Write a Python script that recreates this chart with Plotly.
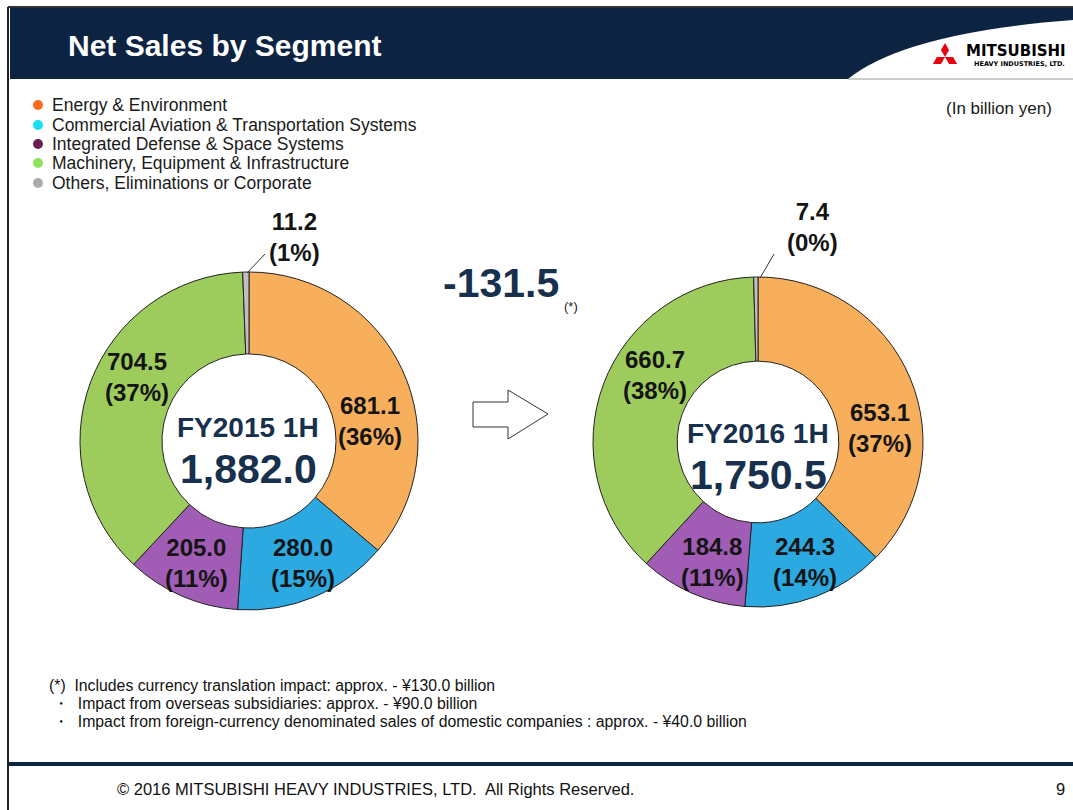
import math
import plotly.graph_objects as go

# ---------------- data ----------------
segments = ["Energy & Environment",
            "Commercial Aviation & Transportation Systems",
            "Integrated Defense & Space Systems",
            "Machinery, Equipment & Infrastructure",
            "Others, Eliminations or Corporate"]
fy2015_values = [681.1, 280.0, 205.0, 704.5, 11.2]
fy2015_pct = [36, 15, 11, 37, 1]
fy2016_values = [653.1, 244.3, 184.8, 660.7, 7.4]
fy2016_pct = [37, 14, 11, 38, 0]
period_labels = ["FY2015 1H", "FY2016 1H"]
period_totals = ["1,882.0", "1,750.5"]
change_label = "-131.5"
unit_label = "(In billion yen)"
title_text = "Net Sales by Segment"
footnotes = ["(*)  Includes currency translation impact: approx. - ¥130.0 billion",
             "\u30fb  Impact from overseas subsidiaries: approx. - ¥90.0 billion",
             "\u30fb  Impact from foreign-currency denominated sales of domestic companies : approx. - ¥40.0 billion"]
footer_text = "© 2016 MITSUBISHI HEAVY INDUSTRIES, LTD.  All Rights Reserved."
page_no = "9"

# ---------------- styles ----------------
W, H = 1073, 810
slice_colors = ["#F8AF5C", "#2CA9E1", "#A15DB5", "#9DCB5C", "#BFBFBF"]
legend_colors = ["#FF6A1A", "#19DDF2", "#6A1F50", "#8EE35A", "#ABABAB"]
NAVY = "#0C2341"
TXT_NAVY = "#17304D"
FONT = "Arial, Liberation Sans, sans-serif"

def dom_x(l, r):
    return [l / W, r / W]

def dom_y(t, b):
    return [1 - b / H, 1 - t / H]

fig = go.Figure()

# pies
pie_geo = [
    dict(x=dom_x(80, 418), y=dom_y(272, 610), hole=0.515),
    dict(x=dom_x(593, 923), y=dom_y(277, 607), hole=0.49),
]
for vals, geo in zip([fy2015_values, fy2016_values], pie_geo):
    fig.add_trace(go.Pie(
        labels=segments, values=vals, sort=False, direction="clockwise",
        rotation=0, hole=geo["hole"], textinfo="none", hoverinfo="skip",
        marker=dict(colors=slice_colors, line=dict(color="#222222", width=1)),
        domain=dict(x=geo["x"], y=geo["y"]), showlegend=False))

# legend markers (pixel axes)
leg_x = 38
leg_y = [105, 125, 144, 163, 183]
fig.add_trace(go.Scatter(
    x=[leg_x] * len(segments), y=leg_y, mode="markers",
    marker=dict(size=10, color=legend_colors, line=dict(width=0)),
    hoverinfo="skip", showlegend=False))

annotations = []
def txt(x, y, s, size, color="#111111", bold=False, family=FONT, xanchor="center"):
    annotations.append(dict(
        x=x, y=y, xref="x", yref="y", text=f"<b>{s}</b>" if bold else s,
        showarrow=False, xanchor=xanchor, yanchor="middle",
        font=dict(family=family, size=size, color=color)))

for seg, y in zip(segments, leg_y):
    txt(50, y, seg, 17.5, "#1a1a1a", xanchor="left")

# header
txt(66, 45, title_text, 30, "white", bold=True, xanchor="left")
txt(1054, 108, unit_label, 17, "#1a1a1a", xanchor="right")

# slice labels: (pie index, slice index, x, y centre of two-line block)
label_pos = [
    (0, 0, 370, 421), (0, 1, 303, 563), (0, 2, 196, 563),
    (0, 3, 137, 377), (0, 4, 294, 237),
    (1, 0, 880, 428), (1, 1, 805, 562), (1, 2, 712, 562),
    (1, 3, 655, 375), (1, 4, 812, 227),
]
all_vals = [fy2015_values, fy2016_values]
all_pct = [fy2015_pct, fy2016_pct]
for p, i, x, y in label_pos:
    txt(x, y, f"{all_vals[p][i]:.1f}<br>({all_pct[p][i]}%)", 24, "#141414", bold=True)

# centre labels
for (cx, y1, y2), lab, tot in zip([(248, 427, 469), (758, 433, 475)], period_labels, period_totals):
    txt(cx, y1, lab, 28, TXT_NAVY, bold=True)
    txt(cx, y2, tot, 41, TXT_NAVY, bold=True)

# change
txt(501, 283, change_label, 41, TXT_NAVY, bold=True)
txt(571, 306, "(*)", 13, "#222222")

# footnotes
for s, x, y in zip(footnotes, [47, 51, 51], [685, 703, 721]):
    txt(x, y, s, 15.8, "#111111", xanchor="left")

txt(375, 789, footer_text, 16.5, "#111111")
txt(1060, 789, page_no, 16.5, "#111111")

# logo text
txt(1068, 51, "MITSUBISHI", 15, "#000000", bold=True, family="DejaVu Sans, Arial", xanchor="right")
txt(1067, 64, "HEAVY INDUSTRIES, LTD.", 6.5, "#000000", bold=True, family="DejaVu Sans, Arial", xanchor="right")

shapes = []
# header bar
shapes.append(dict(type="rect", xref="x", yref="y", x0=10, x1=1073, y0=8, y1=79,
                   fillcolor=NAVY, line=dict(width=0), layer="below"))
shapes.append(dict(type="path", xref="x", yref="y",
                   path="M 848,79 Q 905,33 1073,20 L 1073,79 Z",
                   fillcolor="white", line=dict(width=0), layer="below"))
shapes.append(dict(type="line", xref="x", yref="y", x0=848, x1=1073, y0=79, y1=79,
                   line=dict(color="#999999", width=1)))
# borders
shapes.append(dict(type="line", xref="x", yref="y", x0=8, x1=1073, y0=7, y1=7,
                   line=dict(color="#333333", width=2)))
shapes.append(dict(type="line", xref="x", yref="y", x0=8, x1=8, y0=7, y1=810,
                   line=dict(color="#222222", width=2)))
shapes.append(dict(type="line", xref="x", yref="y", x0=9, x1=1073, y0=764, y1=764,
                   line=dict(color=NAVY, width=4)))

# Mitsubishi mark
cx, cy, L = 945, 57, 14
def rhombus(angle_deg):
    a = math.radians(angle_deg)
    ux, uy = math.sin(a), -math.cos(a)
    px, py = -uy, ux
    w = 0.289 * L
    p0 = (cx, cy)
    p1 = (cx + ux * L, cy + uy * L)
    m = (cx + ux * L / 2, cy + uy * L / 2)
    pts = [p0, (m[0] + px * w, m[1] + py * w), p1, (m[0] - px * w, m[1] - py * w)]
    return "M " + " L ".join(f"{x:.2f},{y:.2f}" for x, y in pts) + " Z"
for ang in (0, 120, 240):
    shapes.append(dict(type="path", xref="x", yref="y", path=rhombus(ang),
                       fillcolor="#E60012", line=dict(width=0)))

# leader lines
shapes.append(dict(type="line", xref="x", yref="y", x0=265, y0=254, x1=247, y1=273,
                   line=dict(color="#333333", width=1)))
shapes.append(dict(type="line", xref="x", yref="y", x0=774, y0=254, x1=760, y1=278,
                   line=dict(color="#333333", width=1)))

# arrow
shapes.append(dict(type="path", xref="x", yref="y",
                   path="M 473,402 L 508,402 L 508,390 L 548,414 L 508,439 L 508,427 L 473,427 Z",
                   fillcolor="white", line=dict(color="#333333", width=1)))

fig.update_layout(
    width=W, height=H, margin=dict(l=0, r=0, t=0, b=0),
    paper_bgcolor="white", plot_bgcolor="rgba(0,0,0,0)",
    xaxis=dict(range=[0, W], visible=False, domain=[0, 1], fixedrange=True),
    yaxis=dict(range=[H, 0], visible=False, domain=[0, 1], fixedrange=True),
    shapes=shapes, annotations=annotations, showlegend=False,
)
fig.write_html("out.html", config={"displayModeBar": False},
               post_script="document.body.style.margin='0';document.body.style.overflow='hidden';")
